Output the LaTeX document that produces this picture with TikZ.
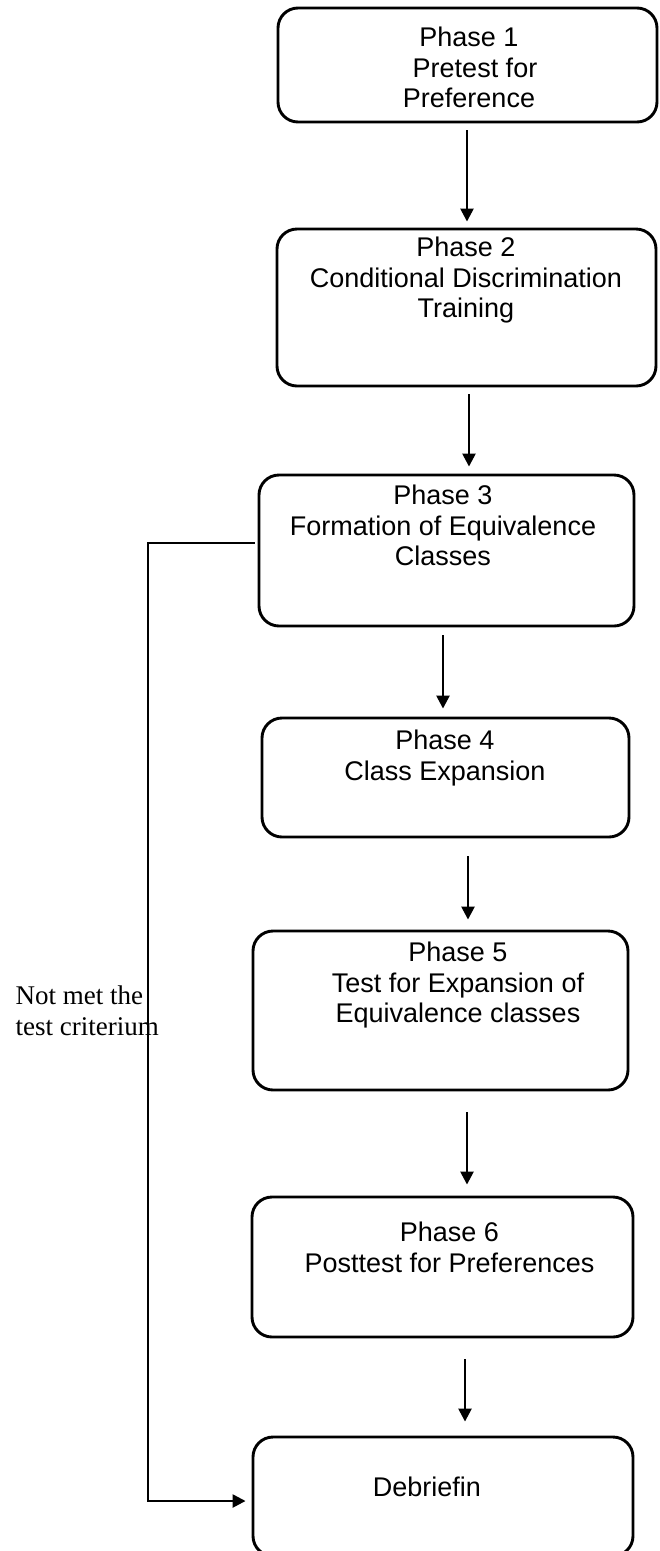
\documentclass[tikz,border=0pt]{standalone}
\usepackage{fontspec}
\setmainfont{Liberation Sans}
\newfontfamily\labelfont{Liberation Serif}
\usetikzlibrary{arrows.meta}
\begin{document}
\begin{tikzpicture}[x=1pt,y=-1pt,
  phasebox/.style={draw, line width=2.9pt, rounded corners=20pt, inner sep=0pt},
  phasetext/.style={anchor=north, align=center, inner sep=0pt, font=\fontsize{27}{30.5}\selectfont},
  arr/.style={line width=2.5pt, -{Triangle[length=13pt,width=13pt]}},
  ]
\clip (0,0) rectangle (660,1551);
\fill[white] (0,0) rectangle (660,1551);

% boxes
\node[phasebox, minimum width=379pt, minimum height=114pt] (b1) at (467.5,65) {};
\node[phasebox, minimum width=379pt, minimum height=157pt] (b2) at (466.5,307.5) {};
\node[phasebox, minimum width=375pt, minimum height=151pt] (b3) at (446.5,550.5) {};
\node[phasebox, minimum width=367pt, minimum height=119pt] (b4) at (445.5,777.5) {};
\node[phasebox, minimum width=375pt, minimum height=159pt] (b5) at (440.5,1010.5) {};
\node[phasebox, minimum width=381pt, minimum height=140pt] (b6) at (442.5,1267) {};
\node[phasebox, minimum width=380pt, minimum height=119pt] (b7) at (443,1496.5) {};

% texts
\node[phasetext] (t1) at (469,27) {Phase 1\\\hspace*{12pt}Pretest for\\Preference};
\node[phasetext] (t2) at (466,237) {Phase 2\\Conditional Discrimination\\Training};
\node[phasetext] (t3) at (443,485) {Phase 3\\Formation of Equivalence\\Classes};
\node[phasetext] (t4) at (445,730) {Phase 4\\Class Expansion};
\node[phasetext] (t5) at (458,942) {Phase 5\\Test for Expansion of\\Equivalence classes};
\node[phasetext] (t6) at (449.5,1222) {Phase 6\\Posttest for Preferences};
\node[phasetext] (t7) at (427,1477) {Debriefin};

% arrows
\draw[arr] ([xshift=-0.5pt,yshift=-7pt]b1.south) -- ([xshift=0.5pt,yshift=6pt]b2.north);
\draw[arr] ([xshift=2.5pt,yshift=-7pt]b2.south) -- ([xshift=22.5pt,yshift=7pt]b3.north);
\draw[arr] ([xshift=-3.5pt,yshift=-8pt]b3.south) -- ([xshift=-2.5pt,yshift=8pt]b4.north);
\draw[arr] ([xshift=22.5pt,yshift=-18pt]b4.south) -- ([xshift=27.5pt,yshift=10pt]b5.north);
\draw[arr] ([xshift=26.5pt,yshift=-21pt]b5.south) -- ([xshift=24.5pt,yshift=11pt]b6.north);
\draw[arr] ([xshift=22.5pt,yshift=-21pt]b6.south) -- ([xshift=22pt,yshift=14pt]b7.north);

% feedback
\coordinate (fa) at (148,543);
\coordinate (fb) at (148,1501);
\draw[arr] ([xshift=-3pt,yshift=7.5pt]b3.west) -- (fa) -- (fb) -- ([xshift=-6pt]b7.west |- fb);

\node[anchor=north west, align=left, inner sep=0pt, font=\labelfont\fontsize{27}{31}\selectfont] (lbl) at (15.5,986) {Not met the\\test criterium};
\end{tikzpicture}
\end{document}
